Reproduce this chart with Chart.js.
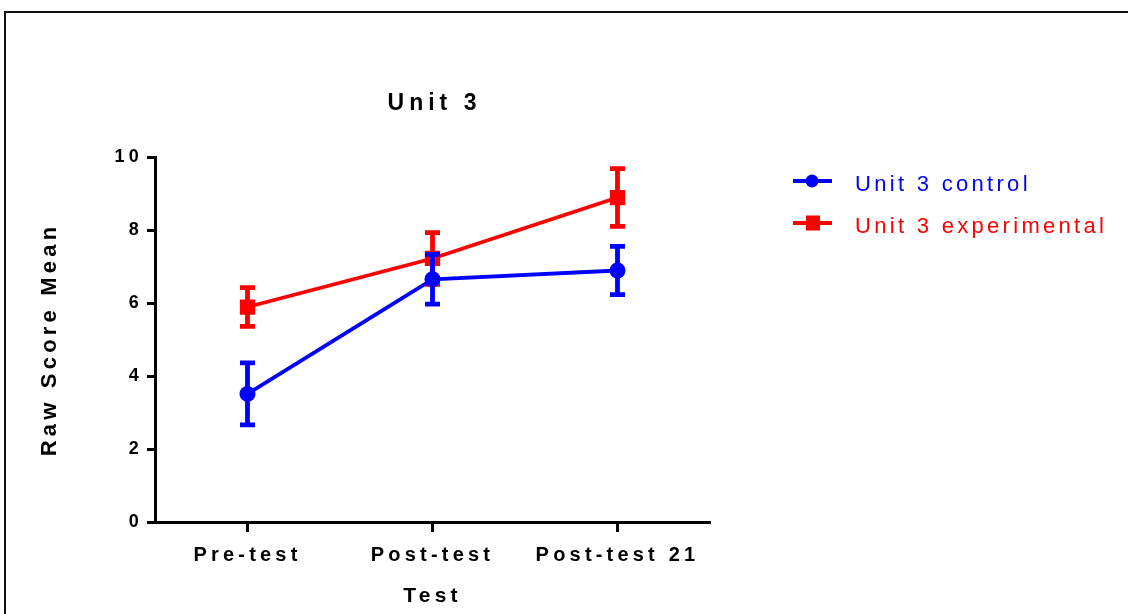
<!DOCTYPE html>
<html>
<head>
<meta charset="utf-8">
<script src="https://cdn.jsdelivr.net/npm/chart.js@4"></script>
<style>
  html, body { margin: 0; padding: 0; background: #fff; overflow: hidden; }
  #wrap { position: relative; width: 1128px; height: 614px; overflow: hidden; }
  #frame { position: absolute; left: 4px; top: 11px; width: 1200px; height: 700px; border-left: 2px solid #111; border-top: 2px solid #111; }
  canvas { position: absolute; left: 0; top: 0; }
</style>
</head>
<body>
<div id="wrap">
  <div id="frame"></div>
  <canvas id="chart" width="1128" height="614"></canvas>
</div>
<script>
// values (mean and error bar half-length)
const chartTitle = 'Unit 3';
const tests = ['Pre-test', 'Post-test', 'Post-test 21'];
const controlMean = [3.51, 6.65, 6.89];
const controlErr = [0.85, 0.68, 0.66];
const experimentalMean = [5.89, 7.22, 8.89];
const experimentalErr = [0.53, 0.71, 0.79];
const yTicks = [0, 2, 4, 6, 8, 10];

const FONT = "'Liberation Sans', Arial, sans-serif";
Chart.defaults.font.family = FONT;
Chart.defaults.color = '#000';

// Prism style spaced-out lettering
const spacingPlugin = {
    id: 'spacing',
    beforeUpdate(chart) { chart.ctx.letterSpacing = '4.2px'; },
    beforeDraw(chart) { chart.ctx.letterSpacing = '4.2px'; }
};

// vertical error bars with caps, drawn right after each dataset
const errorBarPlugin = {
    id: 'errorBars',
    afterDatasetDraw(chart, args) {
        const ds = chart.data.datasets[args.index];
        if (!ds.errors) return;
        const ctx = chart.ctx;
        const y = chart.scales.y;
        ctx.save();
        ctx.strokeStyle = ds.borderColor;
        ctx.lineWidth = 4.8;
        ctx.lineCap = 'butt';
        args.meta.data.forEach((pt, i) => {
            const v = ds.data[i];
            const e = ds.errors[i];
            const top = y.getPixelForValue(v + e);
            const bottom = y.getPixelForValue(v - e);
            ctx.beginPath();
            ctx.moveTo(pt.x, top);
            ctx.lineTo(pt.x, bottom);
            ctx.moveTo(pt.x - 7.5, top);
            ctx.lineTo(pt.x + 7.5, top);
            ctx.moveTo(pt.x - 7.5, bottom);
            ctx.lineTo(pt.x + 7.5, bottom);
            ctx.stroke();
        });
        ctx.restore();
    }
};

const titlePlugin = {
    id: 'plotTitle',
    afterDraw(chart) {
        const { ctx, chartArea } = chart;
        ctx.save();
        ctx.letterSpacing = '5px';
        ctx.font = 'bold 23px ' + FONT;
        ctx.fillStyle = '#000';
        ctx.textAlign = 'center';
        ctx.textBaseline = 'alphabetic';
        ctx.fillText(chartTitle, (chartArea.left + chartArea.right) / 2 + 2, 110);
        ctx.restore();
    }
};

// legend: line - marker - line, then coloured label
const legendPlugin = {
    id: 'sideLegend',
    afterDraw(chart) {
        const ctx = chart.ctx;
        ctx.save();
        chart.data.datasets.forEach((ds, i) => {
            const cy = 181 + i * 42;
            ctx.strokeStyle = ds.borderColor;
            ctx.fillStyle = ds.borderColor;
            ctx.lineWidth = 3.8;
            ctx.beginPath();
            ctx.moveTo(793, cy);
            ctx.lineTo(832, cy);
            ctx.stroke();
            if (ds.pointStyle === 'rect') {
                ctx.fillRect(806, cy - 7.5, 14, 15);
            } else {
                ctx.beginPath();
                ctx.arc(812, cy, 6.5, 0, Math.PI * 2);
                ctx.fill();
            }
            ctx.letterSpacing = '3.3px';
            ctx.font = '22px ' + FONT;
            ctx.textAlign = 'left';
            ctx.textBaseline = 'alphabetic';
            ctx.fillText(ds.label, 855, cy + 10);
        });
        ctx.restore();
    }
};

new Chart(document.getElementById('chart'), {
    type: 'line',
    data: {
        labels: tests,
        datasets: [
            {
                label: 'Unit 3 control',
                data: controlMean,
                errors: controlErr,
                borderColor: '#0000ff',
                backgroundColor: '#0000ff',
                borderWidth: 3.8,
                pointStyle: 'circle',
                pointRadius: 8,
                pointHoverRadius: 8,
                pointBorderWidth: 0
            },
            {
                label: 'Unit 3 experimental',
                data: experimentalMean,
                errors: experimentalErr,
                borderColor: '#ff0000',
                backgroundColor: '#ff0000',
                borderWidth: 3.8,
                pointStyle: 'rect',
                pointRadius: 10.8,
                pointHoverRadius: 10.8,
                pointBorderWidth: 0
            }
        ]
    },
    options: {
        responsive: false,
        animation: false,
        layout: { padding: { top: 157, right: 418, left: 0, bottom: 0 } },
        plugins: {
            legend: { display: false },
            title: { display: false },
            tooltip: { enabled: false }
        },
        elements: { line: { tension: 0 } },
        scales: {
            x: {
                type: 'category',
                offset: true,
                afterFit: s => { s.height = 92; },
                border: { color: '#000', width: 3 },
                grid: { offset: false, drawOnChartArea: false, drawTicks: true, tickLength: 10, tickWidth: 3, tickColor: '#000' },
                ticks: { font: { size: 20, weight: 'bold' }, padding: 11, maxRotation: 0, autoSkip: false },
                title: { display: true, text: 'Test', font: { size: 21, weight: 'bold' }, padding: { top: 0, bottom: 5 } }
            },
            y: {
                min: 0,
                max: 10,
                afterFit: s => { s.width = 155; },
                afterBuildTicks: s => { s.ticks = yTicks.map(v => ({ value: v })); },
                border: { color: '#000', width: 3 },
                grid: { drawOnChartArea: false, drawTicks: true, tickLength: 8, tickWidth: 3, tickColor: '#000' },
                ticks: { font: { size: 18, weight: 'bold' }, padding: 4 },
                title: { display: true, text: 'Raw Score Mean', font: { size: 22, weight: 'bold' }, padding: { top: 37, bottom: 0 } }
            }
        }
    },
    plugins: [spacingPlugin, errorBarPlugin, titlePlugin, legendPlugin]
});
</script>
</body>
</html>
